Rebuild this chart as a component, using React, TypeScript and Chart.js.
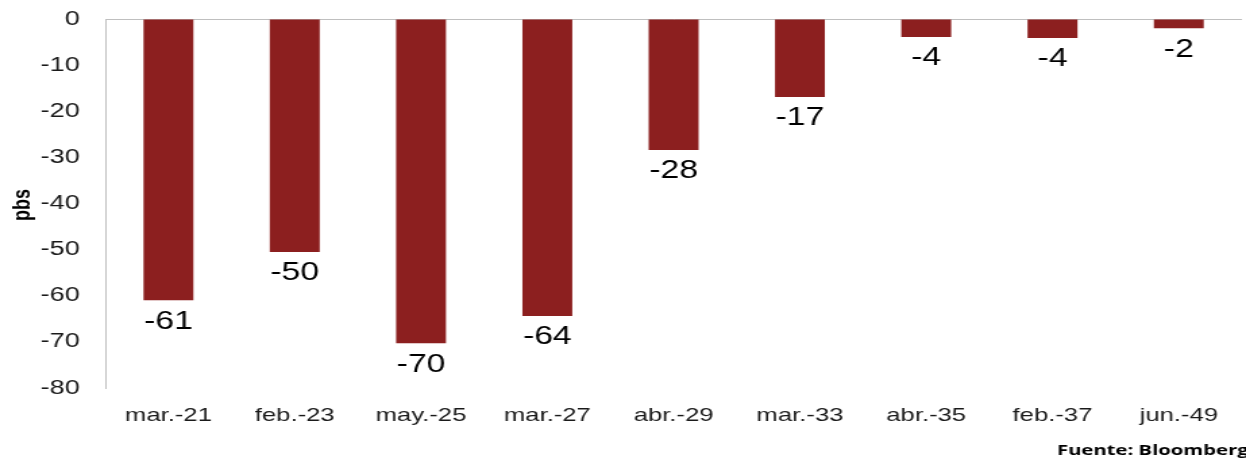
import React, { useEffect, useRef } from "react";
import { Chart, registerables } from "chart.js";

Chart.register(...registerables);

const categories = ["mar.-21", "feb.-23", "may.-25", "mar.-27", "abr.-29", "mar.-33", "abr.-35", "feb.-37", "jun.-49"];
const values = [-61, -50.5, -70.3, -64.4, -28.4, -16.9, -3.9, -4.1, -2];
const yTicks = [0, -10, -20, -30, -40, -50, -60, -70, -80];
const yTitle = "pbs";
const sourceNote = "Fuente: Bloomberg";

const STRETCH = 1.35;
const W = 1246;
const H = 458;
const IW = Math.round(W / STRETCH);

export default function App() {
  const ref = useRef<HTMLCanvasElement | null>(null);
  useEffect(() => {
    document.body.style.margin = "0";
    const canvas = ref.current!;
    const labelPlugin = {
      id: "extras",
      afterDatasetsDraw(chart: any) {
        const ctx = chart.ctx;
        const meta = chart.getDatasetMeta(0);
        ctx.save();
        ctx.fillStyle = "#000000";
        ctx.font = "25px 'Liberation Sans', Arial, sans-serif";
        ctx.textAlign = "center";
        ctx.textBaseline = "top";
        meta.data.forEach((el: any, i: number) => {
          ctx.fillText(String(Math.round(values[i])), el.x, el.y + 9);
        });
        ctx.restore();
      },
      afterDraw(chart: any) {
        const ctx = chart.ctx;
        ctx.save();
        ctx.fillStyle = "#000000";
        ctx.font = "bold 18px 'Liberation Sans', Arial, sans-serif";
        ctx.textAlign = "center";
        ctx.textBaseline = "middle";
        ctx.translate(17, 205);
        ctx.rotate(-Math.PI / 2);
        ctx.fillText(yTitle, 0, 0);
        ctx.restore();
        ctx.save();
        ctx.fillStyle = "#000000";
        ctx.font = "bold 15px 'Open Sans', sans-serif";
        ctx.textAlign = "left";
        ctx.textBaseline = "alphabetic";
        ctx.fillText(sourceNote, 783, 455);
        ctx.restore();
      },
    };
    const chart = new Chart(canvas, {
      type: "bar",
      data: {
        labels: categories,
        datasets: [
          {
            data: values,
            backgroundColor: "#8C1F1F",
            borderWidth: 0,
            barPercentage: 0.395,
            categoryPercentage: 1,
          },
        ],
      },
      options: {
        responsive: false,
        animation: false,
        devicePixelRatio: 1,
        layout: { padding: { top: 19, right: 3, left: 0, bottom: 0 } },
        plugins: { legend: { display: false }, tooltip: { enabled: false } },
        scales: {
          x: {
            grid: { display: false, drawTicks: false },
            border: { display: false },
            ticks: {
              padding: 16,
              color: "#1a1a1a",
              font: { size: 19, family: "'Liberation Sans', Arial, sans-serif" },
              maxRotation: 0,
              autoSkip: false,
            },
            afterFit(scale: any) {
              scale.height = 70;
            },
          },
          y: {
            min: -80,
            max: 0,
            afterBuildTicks(scale: any) {
              scale.ticks = yTicks.map((v) => ({ value: v }));
            },
            grid: {
              drawTicks: false,
              color: (c: any) => (c.tick && c.tick.value === 0 ? "#bfbfbf" : "rgba(0,0,0,0)"),
              lineWidth: 1,
            },
            border: { display: true, color: "#bfbfbf", width: 1 },
            ticks: {
              padding: 19,
              color: "#1a1a1a",
              font: { size: 20, family: "'Liberation Sans', Arial, sans-serif" },
            },
            afterFit(scale: any) {
              scale.width = 78;
              scale.paddingTop = 0;
              scale.paddingBottom = 0;
            },
          },
        },
      },
      plugins: [labelPlugin],
    });
    return () => chart.destroy();
  }, []);
  return (
    <div style={{ width: W, height: H, overflow: "hidden", background: "#ffffff" }}>
      <canvas
        ref={ref}
        width={IW}
        height={H}
        style={{ width: `${W}px`, height: `${H}px`, display: "block" }}
      />
    </div>
  );
}
